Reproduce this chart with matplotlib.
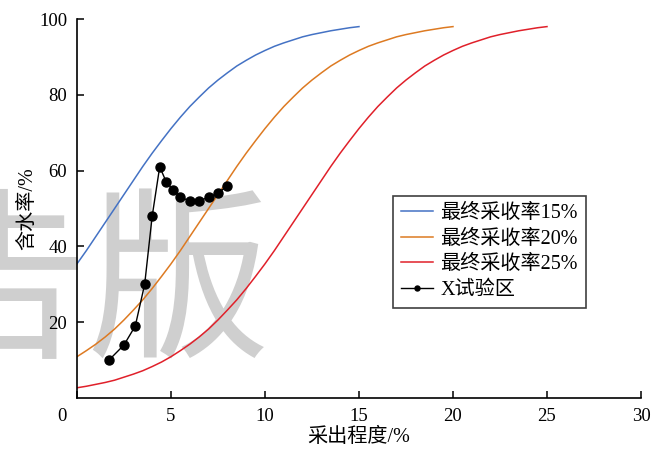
import matplotlib
matplotlib.use("Agg")
import matplotlib.pyplot as plt
import matplotlib.transforms as mtransforms

plt.rcParams['font.family'] = ['Liberation Serif', 'Noto Sans CJK SC']
plt.rcParams['axes.unicode_minus'] = False

# Water cut vs. recovery curves for three ultimate recovery factors (every 0.5 %)
x15 = [i * 0.5 for i in range(0, 31)]
fw15 = [35.4, 38.9, 42.6, 46.3, 50.0, 53.7, 57.4, 61.1, 64.6, 67.9, 71.1, 74.1,
        76.9, 79.4, 81.8, 83.9, 85.8, 87.6, 89.1, 90.5, 91.7, 92.8, 93.7, 94.5,
        95.3, 95.9, 96.4, 96.9, 97.3, 97.7, 98.0]

x20 = [i * 0.5 for i in range(0, 41)]
fw20 = [10.9, 12.5, 14.2, 16.1, 18.2, 20.6, 23.2, 25.9, 28.9, 32.1, 35.4, 38.9,
        42.6, 46.3, 50.0, 53.7, 57.4, 61.1, 64.6, 67.9, 71.1, 74.1, 76.9, 79.4,
        81.8, 83.9, 85.8, 87.6, 89.1, 90.5, 91.7, 92.8, 93.7, 94.5, 95.3, 95.9,
        96.4, 96.9, 97.3, 97.7, 98.0]

x25 = [i * 0.5 for i in range(0, 51)]
fw25 = [2.7, 3.1, 3.6, 4.1, 4.7, 5.5, 6.3, 7.2, 8.3, 9.5, 10.9, 12.5, 14.2, 16.1,
        18.2, 20.6, 23.2, 25.9, 28.9, 32.1, 35.4, 38.9, 42.6, 46.3, 50.0, 53.7,
        57.4, 61.1, 64.6, 67.9, 71.1, 74.1, 76.9, 79.4, 81.8, 83.9, 85.8, 87.6,
        89.1, 90.5, 91.7, 92.8, 93.7, 94.5, 95.3, 95.9, 96.4, 96.9, 97.3, 97.7, 98.0]

# Field data of test area X
x_test = [1.7, 2.5, 3.1, 3.6, 4.0, 4.4, 4.75, 5.1, 5.5, 6.0, 6.5, 7.0, 7.5, 8.0]
fw_test = [10, 14, 19, 30, 48, 61, 57, 55, 53, 52, 52, 53, 54, 56]

labels = ["最终采收率15%", "最终采收率20%", "最终采收率25%", "X试验区"]
colors = ["#4472C4", "#DD7A22", "#E0202A"]

fig = plt.figure(figsize=(6.7, 4.53), dpi=100)
ax = fig.add_axes([0.1149, 0.1214, 0.8418, 0.8366])

# background watermark
ax.text(88 / 670, 1 - 291 / 453, "告版", transform=fig.transFigure,
        fontsize=132, color="#cfcfcf", ha="center", va="center",
        family="Noto Sans CJK SC", zorder=0, clip_on=False)

ax.plot(x15, fw15, color=colors[0], lw=1.1, label=labels[0], zorder=2)
ax.plot(x20, fw20, color=colors[1], lw=1.1, label=labels[1], zorder=2)
ax.plot(x25, fw25, color=colors[2], lw=1.1, label=labels[2], zorder=2)
ax.plot(x_test, fw_test, color="black", lw=1.0, marker="o", markersize=6.5,
        label=labels[3], zorder=3)

ax.set_xlim(0, 30)
ax.set_ylim(0, 100)
ax.set_xticks([0, 5, 10, 15, 20, 25, 30])
ax.set_yticks([20, 40, 60, 80, 100])

for side in ["top", "right"]:
    ax.spines[side].set_visible(False)
for side in ["left", "bottom"]:
    ax.spines[side].set_linewidth(1.2)

ax.tick_params(direction="in", length=5, width=1.1, labelsize=13.5, pad=7)

# origin label sits left of the corner
lab0 = ax.get_xticklabels()[0]
lab0.set_transform(lab0.get_transform() +
                   mtransforms.ScaledTranslation(-15 / 100, 0, fig.dpi_scale_trans))

ax.set_xlabel("采出程度/%", fontsize=14.5)
ax.set_ylabel("含水率/%", fontsize=14.5)
ax.xaxis.label.set_va("center")
ax.yaxis.label.set_va("center")
ax.xaxis.set_label_coords(0.5, -0.105)
ax.yaxis.set_label_coords(-0.088, 0.5)

leg = ax.legend(loc="upper left", bbox_to_anchor=(0.560, 0.533),
                borderaxespad=0, fontsize=14.5, frameon=True, fancybox=False,
                framealpha=1, edgecolor="#404040", handlelength=1.6,
                handletextpad=0.35, labelspacing=0.32, borderpad=0.4,
                markerscale=0.55)
leg.get_frame().set_linewidth(1.2)

fig.savefig("out.png", dpi=100)
